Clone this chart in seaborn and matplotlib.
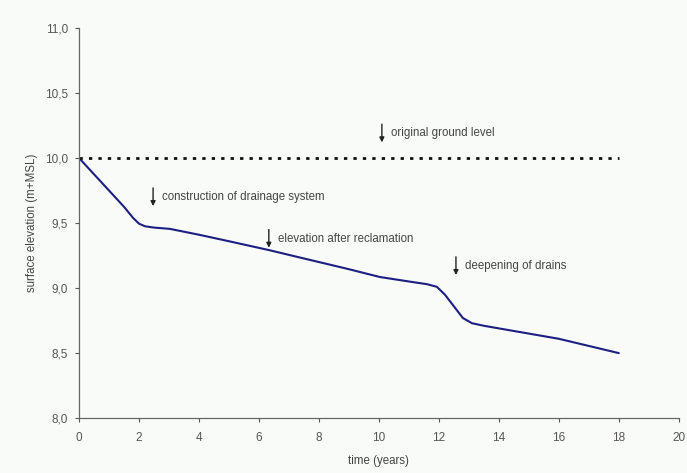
import matplotlib
matplotlib.use("Agg")
import matplotlib.pyplot as plt
import seaborn as sns
import pandas as pd

# Data
time_years = [0.0, 0.5, 1.0, 1.5, 1.8, 2.0, 2.2, 2.5, 3.03, 4.0, 5.0, 6.37, 7.0, 8.0, 9.0,
              10.03, 11.13, 11.6, 11.93, 12.2, 12.5, 12.8, 13.1, 13.5, 14.0, 15.0, 16.0, 17.0, 18.0]
elevation = [10.0, 9.875, 9.75, 9.625, 9.54, 9.495, 9.475, 9.465, 9.455, 9.41, 9.36, 9.29, 9.255, 9.20, 9.145,
             9.085, 9.046, 9.03, 9.01, 8.95, 8.86, 8.77, 8.73, 8.71, 8.69, 8.65, 8.61, 8.555, 8.5]
ground_x = [0, 18]
ground_y = [10.0, 10.0]
x_ticks = [0, 2, 4, 6, 8, 10, 12, 14, 16, 18, 20]
y_ticks = [8.0, 8.5, 9.0, 9.5, 10.0, 10.5, 11.0]
y_tick_labels = ["8,0", "8,5", "9,0", "9,5", "10,0", "10,5", "11,0"]
annotations = [
    (10.1, 10.19, "original ground level"),
    (2.47, 9.70, "construction of drainage system"),
    (6.33, 9.38, "elevation after reclamation"),
    (12.57, 9.17, "deepening of drains"),
]

sns.set_style("white")
plt.rcParams['font.family'] = ['Liberation Sans', 'DejaVu Sans']

bg = "#f9fbf9"
fig = plt.figure(figsize=(6.87, 4.73), dpi=100, facecolor=bg)
ax = fig.add_axes([0.115, 0.116, 0.873, 0.825])
ax.set_facecolor(bg)

df = pd.DataFrame({"time": time_years, "elev": elevation})
sns.lineplot(data=df, x="time", y="elev", ax=ax, color="#1e1e82", linewidth=1.5)
gdf = pd.DataFrame({"time": ground_x, "elev": ground_y})
sns.lineplot(data=gdf, x="time", y="elev", ax=ax, color="#111111", linewidth=2.0,
             linestyle=(0, (1.2, 2.2)))

ax.set_xlim(0, 20)
ax.set_ylim(8.0, 11.0)
ax.set_xticks(x_ticks)
ax.set_xticklabels([str(t) for t in x_ticks])
ax.set_yticks(y_ticks)
ax.set_yticklabels(y_tick_labels)
ax.tick_params(axis="both", which="major", direction="out", length=3, width=0.8,
               colors="#555555", labelsize=8.5, labelcolor="#555555", bottom=True, left=True)
ax.tick_params(axis="x", pad=7)
ax.tick_params(axis="y", pad=5)
for s in ["top", "right"]:
    ax.spines[s].set_visible(False)
for s in ["left", "bottom"]:
    ax.spines[s].set_color("#666666")
    ax.spines[s].set_linewidth(0.9)

ax.set_xlabel("time (years)", fontsize=8.3, color="#444444", labelpad=8)
ax.set_ylabel("surface elevation (m+MSL)", fontsize=8.3, color="#444444", labelpad=5)

for xa, ya, txt in annotations:
    ax.annotate("", xy=(xa, ya - 0.07), xytext=(xa, ya + 0.07),
                arrowprops=dict(arrowstyle="-|>", color="#222222", lw=1.0,
                                mutation_scale=7, shrinkA=0, shrinkB=0))
    ax.text(xa + 0.3, ya, txt, fontsize=8.3, color="#444444", ha="left", va="center")

fig.savefig("out.png", dpi=100, facecolor=bg)
